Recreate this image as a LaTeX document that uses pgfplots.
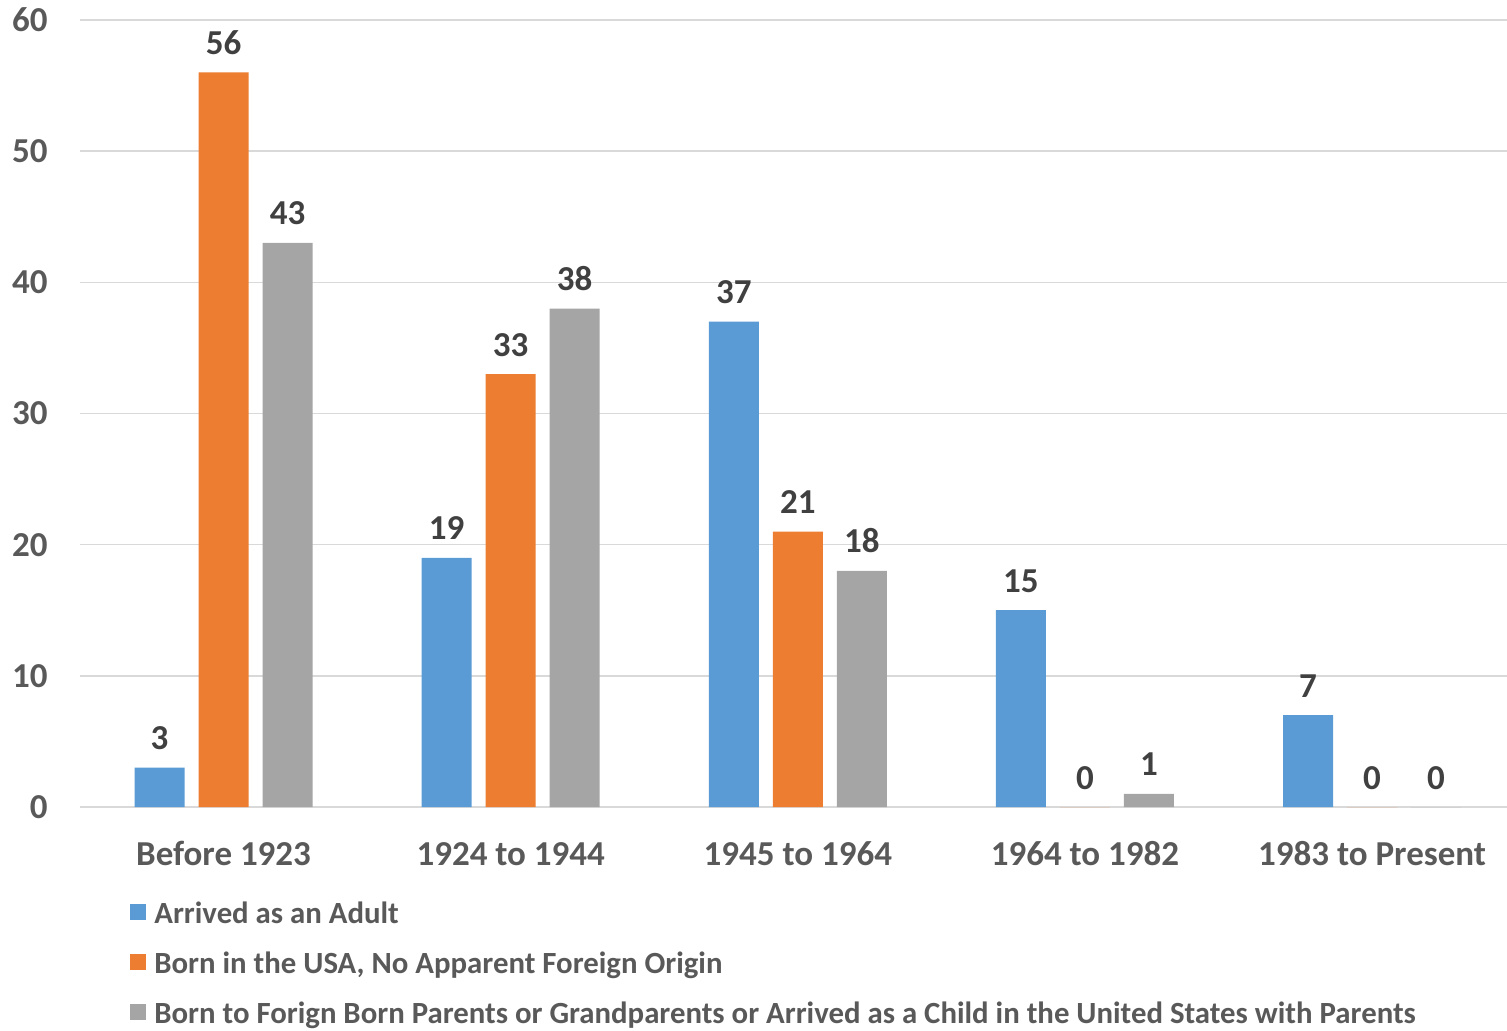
\documentclass[border=0pt]{standalone}
\usepackage{pgfplots}
\pgfplotsset{compat=1.18}
\usepackage{fontspec}
\setmainfont{Carlito}
\newcommand\chartfont{\fontsize{17.5}{21}\selectfont\bfseries}
\newcommand\legendfont{\fontsize{15.4}{18}\selectfont\bfseries}
\definecolor{cBlue}{HTML}{5B9BD5}
\definecolor{cOrange}{HTML}{ED7D31}
\definecolor{cGray}{HTML}{A5A5A5}
\definecolor{cGrid}{HTML}{D9D9D9}
\definecolor{cTick}{HTML}{595959}
\definecolor{cLabel}{HTML}{404040}
\begin{document}
\begin{tikzpicture}[font=\chartfont]
\begin{axis}[
  name=ax,
  scale only axis,
  width=713.5pt, height=393.5pt,
  xmin=-0.5, xmax=4.47,
  ymin=0, ymax=60,
  ybar, bar width=0.174,
  clip=false,
  axis line style={draw=none},
  major tick length=0pt,
  ymajorgrids,
  grid style={cGrid, line width=0.8pt},
  ytick={0,10,...,60},
  xtick={0,1,2,3,4},
  xticklabels={Before 1923,1924 to 1944,1945 to 1964,1964 to 1982,1983 to Present},
  /pgf/number format/assume math mode=true,
  tick label style={font=\chartfont},
  yticklabel style={anchor=east, inner sep=0pt, xshift=-16pt, text=cTick},
  xticklabel style={anchor=base, inner sep=0pt, yshift=-29pt, text=cTick},
  nodes near coords,
  nodes near coords style={anchor=base, inner sep=0pt, yshift=9pt, text=cLabel,
    font=\chartfont},
  legend style={draw=none, fill=none, at={(0.035,-0.120)}, anchor=north west,
    inner sep=0pt, row sep=10.5pt, column sep=4pt, font=\legendfont,
    nodes={inner sep=0pt, text height=11pt, text depth=3.5pt, text=cTick, font=\legendfont}},
  legend cell align=left,
  legend image code/.code={\fill[#1] (0pt,-2pt) rectangle (8pt,6pt);},
]
\addplot[fill=cBlue, draw=none, bar shift=-0.223] coordinates {(0,3) (1,19) (2,37) (3,15) (4,7)};
\addplot[fill=cOrange, draw=none, bar shift=0] coordinates {(0,56) (1,33) (2,21) (3,0) (4,0)};
\addplot[fill=cGray, draw=none, bar shift=0.223] coordinates {(0,43) (1,38) (2,18) (3,1) (4,0)};
\legend{Arrived as an Adult,
  {Born in the USA, No Apparent Foreign Origin},
  Born to Forign Born Parents or Grandparents or Arrived as a Child in the United States with Parents}
\end{axis}
\pgfresetboundingbox
\path ([shift={(-40pt,403.5pt)}]ax.south west) rectangle ([shift={(713.5pt,-112pt)}]ax.south west);
\end{tikzpicture}
\end{document}
